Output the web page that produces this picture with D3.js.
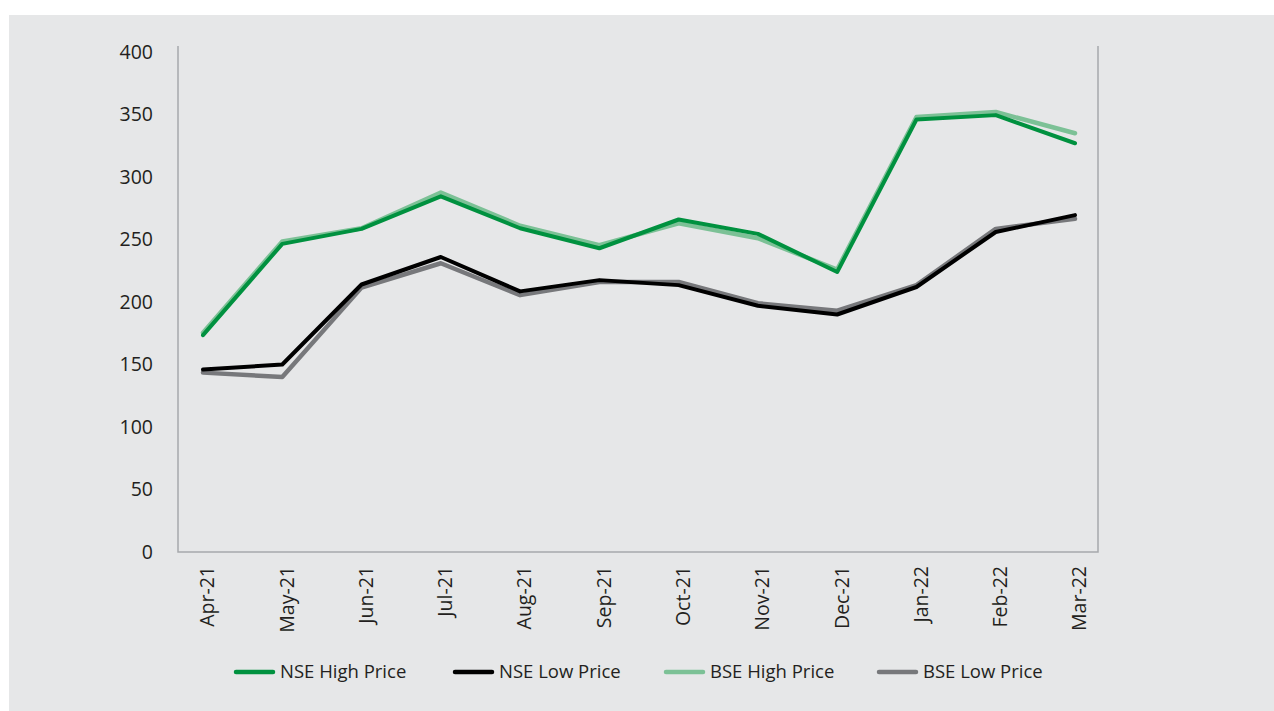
<!DOCTYPE html>
<html lang="en">
  <head>
    <meta charset="UTF-8" />
    <title>NSE / BSE price range</title>
    <style>
      html, body { margin: 0; padding: 0; background: #fff; }
      svg { display: block; }
      text { font-family: "Open Sans", sans-serif; fill: #231f20; }
    </style>
  </head>
  <body>
    <div id="chart">
      <svg width="1274" height="711"></svg>
    </div>
    <script src="https://d3js.org/d3.v7.min.js"></script>
    <script>
      // monthly values
      var months = ["Apr-21", "May-21", "Jun-21", "Jul-21", "Aug-21", "Sep-21",
                    "Oct-21", "Nov-21", "Dec-21", "Jan-22", "Feb-22", "Mar-22"];
      var nseHigh = [173.5, 246.5, 258.5, 284.5, 259, 243, 266, 254.5, 224, 346, 349.5, 327];
      var nseLow  = [146, 150, 214, 236, 208.5, 217.5, 213.5, 197, 190, 212, 256, 269.5];
      var bseHigh = [175.5, 248.5, 259, 287.5, 261, 245.5, 263, 251, 226, 348, 352, 335];
      var bseLow  = [143.5, 140, 211.5, 231, 205.5, 216, 216, 199, 193, 213.5, 258.5, 266.5];
      var yTicks = [0, 50, 100, 150, 200, 250, 300, 350, 400];

      var series = [
        { name: "NSE High Price", values: nseHigh, color: "#00913f", width: 4 },
        { name: "NSE Low Price", values: nseLow, color: "#000000", width: 4 },
        { name: "BSE High Price", values: bseHigh, color: "#7cc196", width: 4.5 },
        { name: "BSE Low Price", values: bseLow, color: "#77787b", width: 4.5 }
      ];

      function draw() {
        var svg = d3.select("#chart>svg");

        svg.append("rect")
          .attr("x", 9).attr("y", 15)
          .attr("width", 1274 - 9).attr("height", 711 - 15)
          .attr("fill", "#e6e7e8");

        var plotLeft = 178, plotRight = 1098, plotTop = 52, plotBottom = 552;

        var x = d3.scalePoint().domain(months).range([203, 1075]);
        var y = d3.scaleLinear().domain([0, 400]).range([plotBottom, plotTop]);

        // frame: left, bottom, right
        svg.append("path")
          .attr("d", "M" + plotLeft + "," + (plotTop - 6) + "V" + plotBottom +
                     "H" + plotRight + "V" + (plotTop - 6))
          .attr("fill", "none")
          .attr("stroke", "#a7a9ac")
          .attr("stroke-width", 1.5);

        var yAxis = svg.append("g")
          .attr("transform", "translate(" + (plotLeft - 25) + ",0)")
          .call(d3.axisLeft(y).tickValues(yTicks).tickSize(0).tickPadding(0));
        yAxis.select(".domain").remove();
        yAxis.selectAll("text")
          .attr("font-size", 19.5)
          .attr("font-family", "Open Sans")
          .attr("fill", "#231f20");

        var xAxis = svg.append("g")
          .attr("transform", "translate(0," + plotBottom + ")")
          .call(d3.axisBottom(x).tickSize(0).tickPadding(0));
        xAxis.select(".domain").remove();
        xAxis.selectAll("text")
          .attr("font-size", 19.5)
          .attr("font-family", "Open Sans")
          .attr("fill", "#231f20")
          .attr("text-anchor", "end")
          .attr("transform", "translate(4,14) rotate(-90)")
          .attr("x", 0)
          .attr("y", 0)
          .attr("dy", "0.35em");

        var line = d3.line()
          .x(function (d, i) { return x(months[i]); })
          .y(function (d) { return y(d); });

        // BSE underneath, NSE on top
        [2, 3, 0, 1].forEach(function (k) {
          var s = series[k];
          svg.append("path")
            .datum(s.values)
            .attr("fill", "none")
            .attr("stroke", s.color)
            .attr("stroke-width", s.width)
            .attr("stroke-linejoin", "round")
            .attr("stroke-linecap", "round")
            .attr("d", line);
        });

        // legend
        var legendX = [236, 455, 666, 879];
        var legend = svg.append("g").attr("transform", "translate(0,672)");
        series.forEach(function (s, i) {
          legend.append("line")
            .attr("x1", legendX[i]).attr("x2", legendX[i] + 37)
            .attr("y1", 0).attr("y2", 0)
            .attr("stroke", s.color)
            .attr("stroke-width", 4.5)
            .attr("stroke-linecap", "round");
          legend.append("text")
            .attr("x", legendX[i] + 44)
            .attr("y", 0)
            .attr("dy", "0.35em")
            .attr("font-size", 18.5)
            .text(s.name);
        });
      }

      draw();
    </script>
  </body>
</html>
